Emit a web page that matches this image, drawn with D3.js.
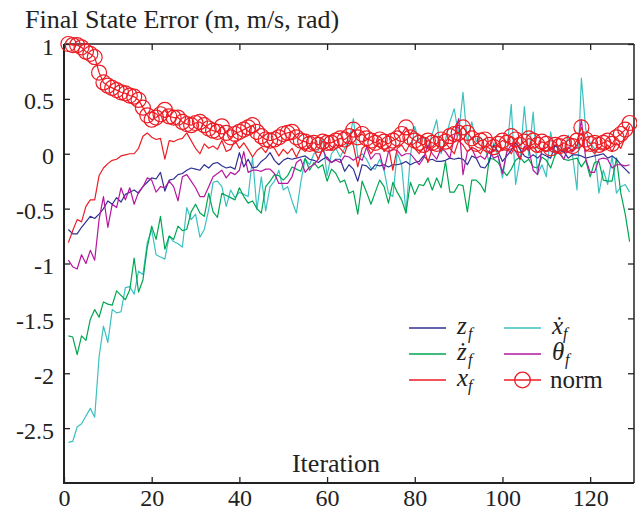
<!DOCTYPE html>
<html><head><meta charset="utf-8">
<script src="https://cdn.jsdelivr.net/npm/d3@7"></script>
</head>
<body style="margin:0"><svg id="chart" width="637" height="510"></svg>
<script>
// ---- data (iteration 1..129) ----
const zf = [
-0.69,-0.73,-0.73,-0.67,-0.62,-0.57,-0.59,-0.55,-0.50,-0.43,
-0.46,-0.40,-0.44,-0.37,-0.35,-0.33,-0.36,-0.30,-0.26,-0.22,
-0.23,-0.17,-0.34,-0.24,-0.23,-0.19,-0.18,-0.15,-0.13,-0.14,
-0.15,-0.10,-0.13,-0.09,-0.08,-0.11,-0.13,-0.12,-0.14,0.01,
-0.12,-0.05,-0.13,-0.12,-0.07,-0.04,0.01,-0.06,-0.10,-0.06,
-0.04,-0.05,-0.04,-0.03,-0.02,-0.05,-0.06,-0.08,-0.05,-0.03,
-0.08,-0.05,-0.05,-0.16,-0.10,-0.14,-0.25,-0.10,-0.11,-0.15,
-0.10,-0.11,-0.10,-0.12,-0.10,-0.10,-0.09,-0.07,-0.10,-0.08,
-0.07,-0.02,-0.06,-0.05,-0.07,-0.07,-0.06,-0.04,-0.05,-0.04,
-0.05,-0.10,-0.02,-0.04,-0.12,-0.13,-0.07,0.08,0.02,-0.07,
-0.02,0.03,0.10,0.04,-0.02,-0.04,-0.01,-0.04,0.00,-0.02,
-0.04,0.08,0.03,0.02,-0.04,-0.01,-0.01,-0.02,-0.04,-0.03,
-0.02,-0.01,0.00,-0.04,-0.02,-0.05,-0.10,-0.14,-0.18];
const zdotf = [
-1.66,-1.67,-1.83,-1.66,-1.70,-1.51,-1.42,-1.49,-1.35,-1.37,
-1.38,-1.25,-1.29,-1.33,-1.24,-0.95,-1.26,-1.15,-0.85,-0.66,
-0.78,-0.57,-0.87,-0.75,-0.78,-0.66,-0.70,-0.69,-0.53,-0.46,
-0.54,-0.57,-0.36,-0.53,-0.58,-0.36,-0.38,-0.40,-0.42,-0.31,
-0.39,-0.45,-0.43,-0.50,-0.54,-0.30,-0.25,-0.19,-0.20,-0.24,
-0.20,-0.12,-0.14,-0.16,-0.04,-0.15,-0.08,-0.13,-0.10,-0.25,
-0.14,-0.18,-0.26,-0.24,-0.36,-0.34,-0.55,-0.25,-0.35,-0.46,
-0.35,-0.24,-0.30,-0.45,-0.26,-0.35,-0.42,-0.54,-0.26,-0.37,
-0.28,-0.29,-0.22,-0.33,-0.22,-0.31,-0.07,-0.35,-0.35,-0.28,
-0.29,-0.53,-0.24,-0.24,-0.28,-0.35,-0.04,-0.05,-0.08,-0.15,
-0.20,-0.14,-0.06,-0.03,-0.08,-0.05,-0.12,-0.13,-0.03,-0.06,
-0.13,-0.01,0.02,-0.05,-0.06,-0.05,-0.04,-0.12,-0.06,-0.21,
-0.08,-0.07,-0.24,-0.25,-0.25,-0.04,-0.36,-0.55,-0.80];
const xf = [
-0.81,-0.70,-0.60,-0.62,-0.48,-0.42,-0.42,-0.20,-0.13,-0.09,
-0.06,-0.05,-0.02,-0.01,0.00,0.00,0.05,0.16,0.19,0.15,
0.13,0.14,-0.05,0.12,0.11,0.13,0.14,0.19,0.12,0.05,
0.00,0.09,0.05,0.07,0.04,0.12,0.02,0.04,0.12,0.05,
0.10,0.04,-0.03,0.03,0.06,0.01,0.08,0.05,-0.02,0.04,
0.00,0.05,-0.03,0.05,0.02,0.08,0.04,-0.05,0.05,0.10,
0.03,0.08,0.05,0.00,0.12,0.08,-0.12,0.05,0.08,0.00,
0.06,0.10,0.02,0.07,-0.15,0.05,0.08,0.02,0.10,0.05,
0.00,0.06,-0.08,0.05,0.08,0.02,0.10,0.05,0.00,0.12,
0.08,0.02,0.06,0.04,0.00,0.07,0.05,0.02,0.08,0.03,
0.05,0.00,0.08,-0.05,0.06,0.03,0.07,0.01,0.05,0.02,
0.06,0.03,0.00,0.05,0.02,0.04,0.08,0.15,0.02,0.05,
0.00,0.06,0.04,0.08,0.02,0.10,0.05,0.15,0.25];
const xdotf = [
-2.63,-2.62,-2.49,-2.46,-2.39,-2.32,-2.40,-1.85,-1.57,-1.72,
-1.42,-1.45,-1.44,-1.22,-1.21,-1.28,-1.07,-1.10,-0.81,-0.69,
-0.92,-0.94,-0.96,-0.75,-0.80,-0.82,-0.85,-0.49,-0.60,-0.55,
-0.76,-0.69,-0.51,-0.26,-0.25,-0.30,-0.48,-0.33,-0.40,-0.35,
-0.37,-0.39,-0.03,-0.51,-0.21,-0.52,-0.30,-0.25,-0.15,-0.33,
-0.30,-0.43,-0.54,-0.26,-0.05,-0.10,0.00,0.03,0.13,-0.20,
0.00,0.05,-0.03,0.05,0.12,0.32,-0.03,0.00,-0.05,-0.13,
-0.14,-0.05,-0.15,-0.36,-0.39,0.01,-0.10,-0.54,-0.02,0.25,
0.10,0.15,0.05,0.18,0.31,0.00,0.13,0.29,0.41,0.17,
0.56,0.10,0.29,0.11,0.15,0.05,-0.08,0.10,-0.02,-0.22,
0.02,0.45,-0.28,-0.05,0.43,-0.02,0.38,-0.19,-0.10,-0.21,
0.20,-0.02,0.08,0.01,0.17,-0.02,-0.33,0.69,0.22,0.10,
0.05,-0.36,-0.15,-0.28,-0.02,-0.36,-0.30,-0.28,-0.35];
const thetaf = [
-0.97,-1.03,-1.05,-0.92,-1.00,-0.88,-0.97,-0.60,-0.39,-0.67,
-0.46,-0.49,-0.31,-0.42,-0.31,-0.46,-0.35,-0.30,-0.22,-0.24,
-0.35,-0.30,-0.31,-0.25,-0.30,-0.43,-0.21,-0.19,-0.25,-0.31,
-0.39,-0.39,-0.30,-0.21,-0.18,-0.15,-0.22,-0.17,-0.19,-0.15,
0.02,-0.17,-0.15,-0.15,-0.16,-0.14,-0.14,-0.18,-0.27,-0.27,
-0.27,-0.21,-0.08,-0.05,-0.17,-0.12,-0.10,-0.05,0.04,-0.05,
-0.08,-0.06,-0.08,-0.02,-0.03,-0.06,-0.03,-0.06,0.06,-0.05,
0.00,0.00,-0.15,0.02,0.04,0.03,-0.02,0.00,0.00,-0.05,
-0.10,-0.04,0.08,0.00,-0.05,0.05,0.02,-0.04,0.15,0.32,
-0.19,0.02,0.05,-0.04,-0.02,-0.05,0.03,-0.04,-0.02,-0.18,
0.02,0.08,0.02,-0.05,0.07,0.05,-0.15,-0.19,0.04,0.02,
0.05,0.02,0.00,-0.05,0.06,0.02,0.06,0.31,-0.05,-0.17,
-0.17,-0.05,-0.04,-0.05,-0.13,-0.10,-0.10,-0.11,-0.10];
const norm = [
1.00,0.99,0.99,0.97,0.93,0.91,0.88,0.74,0.65,0.62,
0.60,0.58,0.56,0.55,0.53,0.52,0.49,0.42,0.35,0.31,
0.33,0.36,0.40,0.34,0.33,0.33,0.29,0.27,0.26,0.28,
0.29,0.26,0.23,0.21,0.20,0.25,0.19,0.15,0.18,0.20,
0.22,0.24,0.26,0.20,0.16,0.13,0.12,0.13,0.15,0.18,
0.19,0.20,0.15,0.12,0.11,0.09,0.10,0.08,0.11,0.10,
0.10,0.12,0.14,0.13,0.16,0.22,0.15,0.18,0.14,0.12,
0.10,0.13,0.11,0.09,0.12,0.14,0.18,0.24,0.15,0.12,
0.10,0.08,0.12,0.10,0.09,0.13,0.11,0.16,0.18,0.19,
0.24,0.19,0.14,0.09,0.12,0.13,0.08,0.06,0.09,0.12,
0.10,0.16,0.13,0.08,0.11,0.14,0.12,0.08,0.11,0.09,
0.05,0.08,0.07,0.10,0.08,0.07,0.12,0.24,0.13,0.09,
0.10,0.08,0.10,0.12,0.09,0.15,0.18,0.22,0.28];
const xTicks = [0,20,40,60,80,100,120];
const yTicks = [1,0.5,0,-0.5,-1,-1.5,-2,-2.5];

// ---- layout ----
const L = 64, R = 634, T = 44, B = 483;
const FONT = "'Liberation Serif'";
const svg = d3.select("#chart");
const x = d3.scaleLinear().domain([0,130]).range([L,R]);
const y = d3.scaleLinear().domain([-3,1]).range([B,T]);
const colors = {zf:"#2e3192", zdotf:"#00a651", xf:"#ed1c24", xdotf:"#3cc0c0", thetaf:"#b5179e", norm:"#ed1c24"};
const data = {zf, zdotf, xf, xdotf, thetaf, norm};

// title
svg.append("text").attr("x",25).attr("y",28).attr("font-size",26).attr("fill","#222")
  .style("font-family",FONT).text("Final State Error (m, m/s, rad)");

// axes with inward ticks
const tickLen = 6;
const gb = svg.append("g").attr("transform",`translate(0,${B})`)
  .call(d3.axisBottom(x).tickValues(xTicks).tickSize(-tickLen).tickPadding(8).tickFormat(d3.format("d")));
gb.attr("font-family",null).attr("font-size",null);
gb.select(".domain").remove();
gb.selectAll("line").attr("stroke","#222").attr("stroke-width",1.3);
gb.selectAll("text").attr("font-size",24).attr("fill","#222").attr("dy","0.62em").style("font-family",FONT);

const gt = svg.append("g").attr("transform",`translate(0,${T})`)
  .call(d3.axisTop(x).tickValues(xTicks).tickSize(-tickLen).tickFormat(""));
gt.select(".domain").remove();
gt.selectAll("line").attr("stroke","#222").attr("stroke-width",1.3);

const gl = svg.append("g").attr("transform",`translate(${L},0)`)
  .call(d3.axisLeft(y).tickValues(yTicks).tickSize(-tickLen).tickPadding(10).tickFormat(d=>String(d)));
gl.attr("font-family",null).attr("font-size",null);
gl.select(".domain").remove();
gl.selectAll("line").attr("stroke","#222").attr("stroke-width",1.3);
gl.selectAll("text").attr("font-size",24).attr("fill","#222").attr("dy","0.42em").style("font-family",FONT);

const gr = svg.append("g").attr("transform",`translate(${R},0)`)
  .call(d3.axisRight(y).tickValues(yTicks).tickSize(-tickLen).tickFormat(""));
gr.select(".domain").remove();
gr.selectAll("line").attr("stroke","#222").attr("stroke-width",1.3);

// frame
svg.append("line").attr("x1",L).attr("x2",R).attr("y1",T).attr("y2",T).attr("stroke","#222").attr("stroke-width",1.3);
svg.append("line").attr("x1",R).attr("x2",R).attr("y1",T).attr("y2",B).attr("stroke","#222").attr("stroke-width",1.5);
svg.append("line").attr("x1",L).attr("x2",L).attr("y1",T).attr("y2",B+1).attr("stroke","#222").attr("stroke-width",2);
svg.append("line").attr("x1",L).attr("x2",R).attr("y1",B).attr("y2",B).attr("stroke","#222").attr("stroke-width",2);

// x label
svg.append("text").attr("x",336).attr("y",472).attr("text-anchor","middle").attr("font-size",26).attr("fill","#222")
  .style("font-family",FONT).text("Iteration");

// series lines
const line = d3.line().x((d,i)=>x(i+1)).y(d=>y(d));
["xdotf","zdotf","zf","thetaf","xf","norm"].forEach(k=>{
  svg.append("path").datum(data[k]).attr("d",line).attr("fill","none")
    .attr("stroke",colors[k]).attr("stroke-width",1.2).attr("stroke-linejoin","round");
});
svg.append("g").selectAll("circle").data(norm).join("circle")
  .attr("cx",(d,i)=>x(i+1)).attr("cy",d=>y(d)).attr("r",7.5)
  .attr("fill","none").attr("stroke",colors.norm).attr("stroke-width",1.2);

// legend
const legItems = [
  {k:"zf", col:0,row:0, base:"z"},
  {k:"xdotf", col:1,row:0, base:"ẋ"},
  {k:"zdotf", col:0,row:1, base:"ż"},
  {k:"thetaf", col:1,row:1, base:"θ"},
  {k:"xf", col:0,row:2, base:"x"},
  {k:"norm", col:1,row:2, base:"norm"}
];
const colX = [409, 504], rowY = [328, 354, 380];
legItems.forEach(it=>{
  const x0 = colX[it.col], yy = rowY[it.row];
  svg.append("line").attr("x1",x0).attr("x2",x0+37).attr("y1",yy).attr("y2",yy)
    .attr("stroke",colors[it.k]).attr("stroke-width",1.4);
  if(it.k==="norm"){
    svg.append("circle").attr("cx",x0+18.5).attr("cy",yy).attr("r",7.8).attr("fill","none")
      .attr("stroke",colors.norm).attr("stroke-width",1.3);
    svg.append("text").attr("x",x0+46).attr("y",yy+8).attr("font-size",25).attr("fill","#222")
      .style("font-family",FONT).text("norm");
  } else {
    svg.append("text").attr("x",x0+48).attr("y",yy+6).attr("font-size",25).attr("fill","#222")
      .style("font-family",FONT).style("font-style","italic").text(it.base);
    svg.append("text").attr("x",x0+48+(it.base==="θ"?13:11)).attr("y",yy+11).attr("font-size",16).attr("fill","#222")
      .style("font-family",FONT).style("font-style","italic").text("f");
  }
});
</script></body></html>
